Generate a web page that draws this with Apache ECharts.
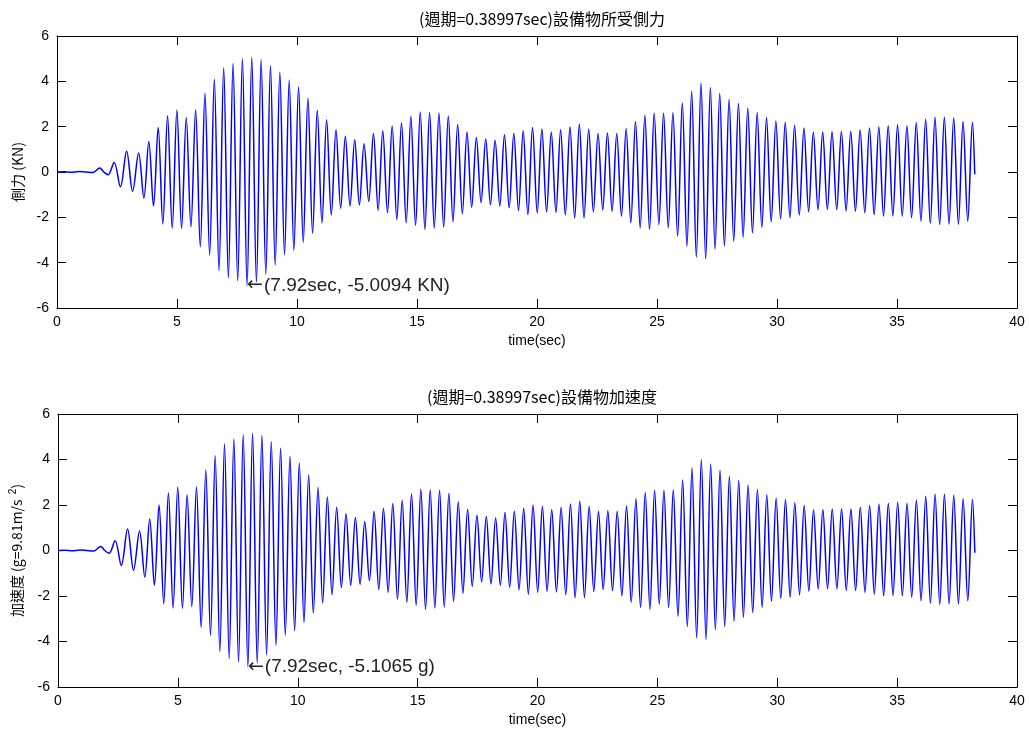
<!DOCTYPE html>
<html>
<head>
<meta charset="utf-8">
<script src="https://cdn.jsdelivr.net/npm/echarts@6/dist/echarts.min.js"></script>
<style>
html,body{margin:0;padding:0;background:#fff;}
#chart{width:1029px;height:737px;}
</style>
</head>
<body>
<div id="chart"></div>
<script>
// ---- data ----
const titleTop = '(週期=0.38997sec)設備物所受側力';
const titleBottom = '(週期=0.38997sec)設備物加速度';
const yNameTop = '側力 (KN)';
const xName = 'time(sec)';
const xTicks = [0, 5, 10, 15, 20, 25, 30, 35, 40];
const yTicks = [-6, -4, -2, 0, 2, 4, 6];

// structure period stated in the titles (sec): spacing of successive crests
const period = 0.38997;
// time of first regular crest (sec)
const firstPeakTime = 3.8253;

// early transient, [time, value]
const forceTransient = [[0,0],[0.3,0.01],[0.6,-0.01],[0.9,0.02],[1.2,0],[1.5,-0.02],[1.78,0.18],[1.95,0],[2.13,-0.12],[2.38,0.42],[2.64,-0.65],[2.9,0.92],[3.15,-0.85],[3.4,0.84],[3.62,-1.15]];
// crest values of the lateral force (KN), one per cycle
const forcePeaks = [1.35,1.96,2.48,2.74,2.4,2.74,3.47,4.09,4.6,4.8,5.0,5.05,4.95,4.7,4.4,4.05,3.75,3.25,2.72,2.3,1.86,1.58,1.42,1.25,1.7,1.82,2.03,2.17,2.45,2.65,2.62,2.6,2.47,2.1,1.77,1.52,1.46,1.4,1.64,1.7,1.82,1.96,1.9,1.76,1.86,2.0,2.12,1.9,1.7,1.72,1.7,1.92,2.23,2.5,2.6,2.6,2.62,3.04,3.56,3.92,3.72,3.46,3.2,3.02,2.82,2.63,2.4,2.25,2.2,2.06,1.94,1.75,1.76,1.78,1.79,1.8,1.86,1.94,2.0,2.04,2.08,2.04,2.18,2.33,2.42,2.42,2.38,2.23,2.2];
// trough values of the lateral force (KN), one per cycle
const forceTroughs = [-1.5,-2.29,-2.48,-2.49,-2.42,-3.3,-3.66,-4.35,-4.66,-4.8,-5.0094,-4.85,-4.5,-4.1,-3.65,-3.45,-3.1,-2.7,-2.25,-1.9,-1.6,-1.5,-1.45,-1.3,-1.68,-1.8,-2.1,-2.24,-2.36,-2.54,-2.48,-2.44,-2.2,-1.84,-1.55,-1.35,-1.44,-1.5,-1.58,-1.7,-1.88,-1.8,-1.76,-1.78,-1.9,-2.03,-2.03,-1.76,-1.68,-1.73,-1.95,-2.24,-2.46,-2.54,-2.32,-2.46,-2.83,-3.27,-3.75,-3.83,-3.4,-3.27,-3.05,-2.87,-2.68,-2.45,-2.2,-2.07,-2.02,-1.9,-1.75,-1.66,-1.65,-1.66,-1.72,-1.73,-1.8,-1.88,-1.95,-1.94,-1.95,-2.02,-2.17,-2.27,-2.32,-2.3,-2.3,-2.17];
const forceEnd = [38.24, -0.1];
const forceNote = [7.92, -5.0094];
const forceNoteText = '(7.92sec, -5.0094 KN)';

const accelTransient = [[0,0],[0.3,0.01],[0.6,-0.01],[0.9,0.02],[1.2,0],[1.5,-0.02],[1.78,0.18],[1.95,0],[2.13,-0.12],[2.38,0.43],[2.64,-0.66],[2.9,0.94],[3.15,-0.87],[3.4,0.86],[3.62,-1.17]];
const accelPeaks = [1.38,2.0,2.53,2.79,2.45,2.79,3.54,4.17,4.69,4.9,5.1,5.15,5.05,4.79,4.49,4.13,3.83,3.32,2.77,2.35,1.9,1.61,1.45,1.28,1.73,1.86,2.07,2.21,2.5,2.7,2.67,2.65,2.52,2.14,1.81,1.55,1.49,1.43,1.67,1.73,1.86,2.0,1.94,1.8,1.9,2.04,2.16,1.94,1.73,1.75,1.73,1.96,2.27,2.55,2.65,2.65,2.67,3.1,3.63,4.0,3.79,3.53,3.26,3.08,2.88,2.68,2.45,2.3,2.24,2.1,1.98,1.79,1.8,1.82,1.83,1.84,1.9,1.98,2.04,2.08,2.12,2.08,2.22,2.38,2.47,2.47,2.43,2.27,2.24];
const accelTroughs = [-1.53,-2.34,-2.53,-2.54,-2.47,-3.37,-3.73,-4.44,-4.75,-4.9,-5.1065,-4.95,-4.59,-4.18,-3.72,-3.52,-3.16,-2.75,-2.3,-1.94,-1.63,-1.53,-1.48,-1.33,-1.71,-1.84,-2.14,-2.28,-2.41,-2.59,-2.53,-2.49,-2.24,-1.88,-1.58,-1.38,-1.47,-1.53,-1.61,-1.73,-1.92,-1.84,-1.8,-1.82,-1.94,-2.07,-2.07,-1.8,-1.71,-1.76,-1.99,-2.28,-2.51,-2.59,-2.37,-2.51,-2.89,-3.34,-3.83,-3.91,-3.47,-3.34,-3.11,-2.93,-2.73,-2.5,-2.24,-2.11,-2.06,-1.94,-1.79,-1.69,-1.68,-1.69,-1.75,-1.76,-1.84,-1.92,-1.99,-1.98,-1.99,-2.06,-2.21,-2.32,-2.37,-2.35,-2.35,-2.21];
const accelEnd = [38.24, -0.1];
const accelNote = [7.92, -5.1065];
const accelNoteText = '(7.92sec, -5.1065 g)';

// ---- build ----
function buildLine(transient, peaks, troughs, endPt) {
  const pts = transient.map(p => p.slice());
  for (let m = 0; m < peaks.length; m++) {
    const t = firstPeakTime + m * period;
    pts.push([t, peaks[m]]);
    if (m < troughs.length) pts.push([t + period / 2, troughs[m]]);
  }
  pts.push(endPt.slice());
  return pts;
}

const FONT = '"Liberation Sans", Arial, sans-serif';
const CJK = '"Noto Sans CJK TC", "Noto Sans CJK SC", sans-serif';
const xMin = xTicks[0], xMax = xTicks[xTicks.length - 1], xInt = xTicks[1] - xTicks[0];
const yMin = yTicks[0], yMax = yTicks[yTicks.length - 1], yInt = yTicks[1] - yTicks[0];

const grids = [
  {left: 57, right: 12, top: 36, height: 272, containLabel: false},
  {left: 57, right: 12, top: 414, height: 273, containLabel: false}
];
const axisLine = {show: true, onZero: false, lineStyle: {color: '#000', width: 1}};
function xAx(gi, pos, labels) {
  return {
    type: 'value', gridIndex: gi, position: pos, min: xMin, max: xMax, interval: xInt,
    axisLine: axisLine, splitLine: {show: false},
    axisTick: {show: true, inside: true, length: 9, lineStyle: {color: '#000'}},
    axisLabel: {show: labels, color: '#000', fontFamily: FONT, fontSize: 14, margin: 7},
    name: labels ? xName : '', nameLocation: 'middle', nameGap: 26,
    nameTextStyle: {color: '#000', fontFamily: FONT, fontSize: 14}
  };
}
function yAx(gi, pos, labels, name, rich) {
  return {
    type: 'value', gridIndex: gi, position: pos, min: yMin, max: yMax, interval: yInt,
    axisLine: axisLine, splitLine: {show: false},
    axisTick: {show: true, inside: true, length: 9, lineStyle: {color: '#000'}},
    axisLabel: {show: labels, color: '#000', fontFamily: FONT, fontSize: 14, margin: 8},
    name: labels ? name : '', nameLocation: 'middle', nameGap: 32, nameRotate: 90,
    nameTextStyle: Object.assign({color: '#000', fontFamily: CJK, fontSize: 14}, rich ? {rich: rich} : {})
  };
}
const supRich = {
  n: {fontFamily: CJK, fontSize: 14, color: '#000'},
  sup: {fontFamily: FONT, fontSize: 10, color: '#000', padding: [0, 0, 8, 2]}
};
const noteRich = {
  a: {fontFamily: '"DejaVu Sans", sans-serif', fontSize: 19, color: '#222', padding: [0, 1, 0, 0]},
  t: {fontFamily: FONT, fontSize: 19, color: '#222'}
};

function lineSeries(xi, yi, data, note, noteText) {
  return {
    type: 'line', xAxisIndex: xi, yAxisIndex: yi, data: data,
    showSymbol: false, symbol: 'none', smooth: 0.35, animation: false,
    lineStyle: {color: '#0000ff', width: 1.5},
    markPoint: {
      symbol: 'circle', symbolSize: 0, animation: false,
      data: [{coord: note, value: 0}],
      label: {show: true, position: 'right', distance: 0,
              formatter: '{a|←}{t|' + noteText + '}', rich: noteRich}
    }
  };
}

const chart = echarts.init(document.getElementById('chart'), null, {renderer: 'canvas'});
chart.setOption({
  backgroundColor: '#fff',
  animation: false,
  title: [
    {text: titleTop, left: 537, top: 6, textAlign: 'center',
     textStyle: {fontFamily: CJK, fontSize: 16, fontWeight: 'normal', color: '#000'}},
    {text: titleBottom, left: 537, top: 384, textAlign: 'center',
     textStyle: {fontFamily: CJK, fontSize: 16, fontWeight: 'normal', color: '#000'}}
  ],
  grid: grids,
  xAxis: [xAx(0, 'bottom', true), xAx(0, 'top', false), xAx(1, 'bottom', true), xAx(1, 'top', false)],
  yAxis: [yAx(0, 'left', true, yNameTop), yAx(0, 'right', false, ''),
          yAx(1, 'left', true, '{n|加速度 (g=9.81m/s }{sup|2}{n|)}', supRich), yAx(1, 'right', false, '')],
  series: [
    lineSeries(0, 0, buildLine(forceTransient, forcePeaks, forceTroughs, forceEnd), forceNote, forceNoteText),
    lineSeries(2, 2, buildLine(accelTransient, accelPeaks, accelTroughs, accelEnd), accelNote, accelNoteText)
  ]
});
</script>
</body>
</html>
